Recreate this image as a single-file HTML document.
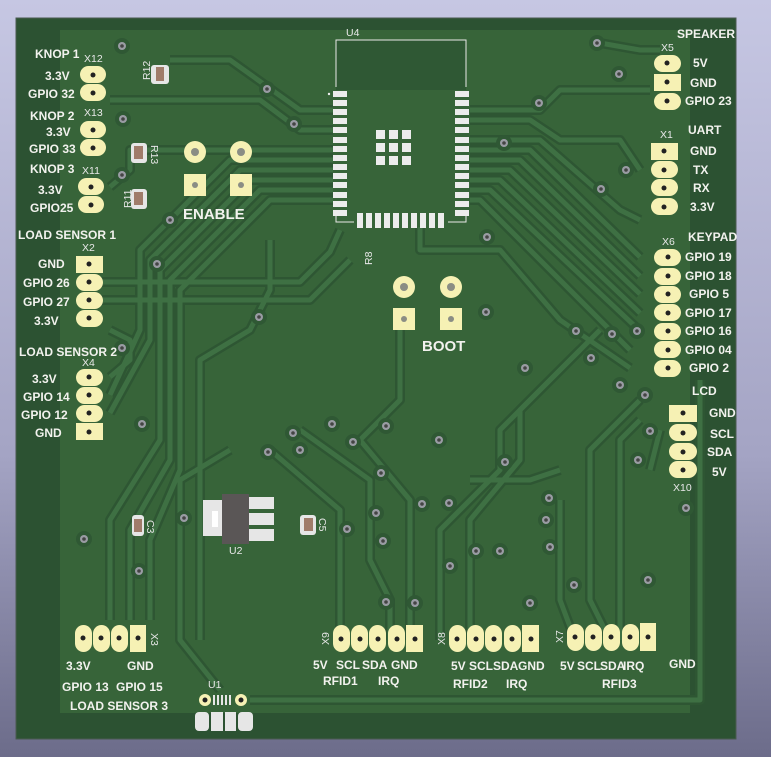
<!DOCTYPE html>
<html><head><meta charset="utf-8"><style>
html,body{margin:0;padding:0;width:771px;height:757px;overflow:hidden;background:linear-gradient(#c6c7e3,#a4a4c4 60%,#6c6c8a);}
svg{display:block}
text{font-family:"Liberation Sans",sans-serif;font-weight:bold;fill:#f2f2ee;font-size:12px}
.r{font-weight:normal;fill:#e8e8e8;font-size:10.5px}
</style></head><body>
<svg width="771" height="757" viewBox="0 0 771 757" xmlns="http://www.w3.org/2000/svg">
<defs>
<g id="via"><circle r="8" fill="#2f5834"/><circle r="4" fill="#9a9ca4"/><circle r="1.8" fill="#444"/></g>
<g id="tr">
<path d="M333 110 L300 110 L230 60 L170 60"/>
<path d="M333 130 L300 130 L260 100 L110 100"/>
<path d="M333 150 L130 150 L130 170 L110 187"/>
<path d="M333 160 L230 160 L140 250 L140 330 L110 395"/>
<path d="M333 170 L240 170 L150 260 L150 340 L110 413"/>
<path d="M333 180 L250 180 L160 270 L160 440 L110 520 L110 620"/>
<path d="M333 190 L260 190 L170 280 L170 460 L130 530 L130 620"/>
<path d="M333 200 L270 200 L180 290 L180 470 L150 540 L150 620"/>
<path d="M100 282 L300 282 L330 252 L340 230"/>
<path d="M100 300 L310 300 L350 260"/>
<path d="M110 330 L130 340 L130 360 L110 377"/>
<path d="M470 110 L540 110 L560 90 L650 90"/>
<path d="M470 120 L530 120 L560 140 L620 140 L640 170"/>
<path d="M470 140 L540 140 L620 210 L640 220"/>
<path d="M470 150 L530 150 L640 257"/>
<path d="M470 160 L520 160 L640 276"/>
<path d="M470 170 L510 170 L640 294"/>
<path d="M470 180 L500 180 L640 313"/>
<path d="M470 190 L490 190 L640 331"/>
<path d="M470 200 L480 200 L630 350"/>
<path d="M420 227 L420 250 L500 250 L560 320 L630 368"/>
<path d="M600 330 L520 410 L520 460 L470 520 L470 640"/>
<path d="M580 350 L500 430 L500 470 L440 530 L440 640"/>
<path d="M640 400 L590 450 L590 600 L610 640"/>
<path d="M640 420 L620 440 L620 640"/>
<path d="M560 500 L560 600 L575 640"/>
<path d="M650 470 L660 430"/>
<path d="M300 430 L370 480 L370 560 L390 600 L390 640"/>
<path d="M270 450 L340 510 L340 640"/>
<path d="M400 330 L400 400 L360 440 L410 500 L410 640"/>
<path d="M230 450 L180 480 L180 640 L220 690"/>
<path d="M700 380 L700 700 L250 700"/>
<path d="M470 480 L530 480 L560 470"/>
<path d="M600 43 L640 50 L660 50"/>
<path d="M270 240 L270 290 L250 330 L200 360 L200 640"/>
</g>
</defs>
<rect x="16" y="18" width="720" height="721" fill="#2c5232" stroke="#4a5a50" stroke-width="1"/>
<rect x="60" y="30" width="630" height="683" fill="#376439"/>
<rect x="336" y="40" width="130" height="50" fill="#2f5834"/>
<g fill="none" stroke-linejoin="round">
<use href="#tr" stroke="#2e5633" stroke-width="10"/>
<use href="#tr" stroke="#3e7043" stroke-width="5"/>
</g>
<g>
<use href="#via" x="122" y="46"/><use href="#via" x="267" y="89"/><use href="#via" x="294" y="124"/>
<use href="#via" x="123" y="119"/><use href="#via" x="122" y="175"/><use href="#via" x="170" y="220"/>
<use href="#via" x="157" y="264"/><use href="#via" x="259" y="317"/><use href="#via" x="122" y="348"/>
<use href="#via" x="142" y="424"/><use href="#via" x="293" y="433"/><use href="#via" x="268" y="452"/>
<use href="#via" x="332" y="424"/><use href="#via" x="353" y="442"/><use href="#via" x="386" y="426"/>
<use href="#via" x="84" y="539"/><use href="#via" x="139" y="571"/><use href="#via" x="184" y="518"/>
<use href="#via" x="347" y="529"/><use href="#via" x="376" y="513"/><use href="#via" x="383" y="541"/>
<use href="#via" x="597" y="43"/><use href="#via" x="619" y="74"/><use href="#via" x="539" y="103"/>
<use href="#via" x="504" y="143"/><use href="#via" x="626" y="170"/><use href="#via" x="601" y="189"/>
<use href="#via" x="487" y="237"/><use href="#via" x="486" y="312"/><use href="#via" x="576" y="331"/>
<use href="#via" x="612" y="334"/><use href="#via" x="637" y="331"/><use href="#via" x="591" y="358"/>
<use href="#via" x="525" y="368"/><use href="#via" x="620" y="385"/><use href="#via" x="645" y="395"/>
<use href="#via" x="650" y="431"/><use href="#via" x="638" y="460"/><use href="#via" x="686" y="508"/>
<use href="#via" x="449" y="503"/><use href="#via" x="422" y="504"/><use href="#via" x="549" y="498"/>
<use href="#via" x="546" y="520"/><use href="#via" x="476" y="551"/><use href="#via" x="500" y="551"/>
<use href="#via" x="550" y="547"/><use href="#via" x="450" y="566"/><use href="#via" x="574" y="585"/>
<use href="#via" x="648" y="580"/><use href="#via" x="415" y="603"/><use href="#via" x="530" y="603"/>
<use href="#via" x="386" y="602"/><use href="#via" x="381" y="473"/><use href="#via" x="439" y="440"/>
<use href="#via" x="505" y="462"/><use href="#via" x="300" y="450"/>
</g>
<g fill="none" stroke="#e8e8e8" stroke-width="1">
<path d="M336 87 V40 H466 V87"/>
<path d="M336 215 V222 H354 M448 222 H466 V215"/>
</g>
<g fill="#ececec">
<rect x="333" y="91" width="14" height="6"/><rect x="333" y="100" width="14" height="6"/><rect x="333" y="109" width="14" height="6"/><rect x="333" y="118" width="14" height="6"/><rect x="333" y="127" width="14" height="6"/><rect x="333" y="137" width="14" height="6"/><rect x="333" y="146" width="14" height="6"/><rect x="333" y="155" width="14" height="6"/><rect x="333" y="164" width="14" height="6"/><rect x="333" y="173" width="14" height="6"/><rect x="333" y="182" width="14" height="6"/><rect x="333" y="192" width="14" height="6"/><rect x="333" y="201" width="14" height="6"/><rect x="333" y="210" width="14" height="6"/>
<rect x="455" y="91" width="14" height="6"/><rect x="455" y="100" width="14" height="6"/><rect x="455" y="109" width="14" height="6"/><rect x="455" y="118" width="14" height="6"/><rect x="455" y="127" width="14" height="6"/><rect x="455" y="137" width="14" height="6"/><rect x="455" y="146" width="14" height="6"/><rect x="455" y="155" width="14" height="6"/><rect x="455" y="164" width="14" height="6"/><rect x="455" y="173" width="14" height="6"/><rect x="455" y="182" width="14" height="6"/><rect x="455" y="192" width="14" height="6"/><rect x="455" y="201" width="14" height="6"/><rect x="455" y="210" width="14" height="6"/>
<rect x="357" y="213" width="6" height="15"/><rect x="366" y="213" width="6" height="15"/><rect x="375" y="213" width="6" height="15"/><rect x="384" y="213" width="6" height="15"/><rect x="393" y="213" width="6" height="15"/><rect x="402" y="213" width="6" height="15"/><rect x="411" y="213" width="6" height="15"/><rect x="420" y="213" width="6" height="15"/><rect x="429" y="213" width="6" height="15"/><rect x="438" y="213" width="6" height="15"/>
<rect x="376" y="130" width="9" height="9"/><rect x="389" y="130" width="9" height="9"/><rect x="402" y="130" width="9" height="9"/>
<rect x="376" y="143" width="9" height="9"/><rect x="389" y="143" width="9" height="9"/><rect x="402" y="143" width="9" height="9"/>
<rect x="376" y="156" width="9" height="9"/><rect x="389" y="156" width="9" height="9"/><rect x="402" y="156" width="9" height="9"/>
<circle cx="329" cy="94" r="1.2"/>
</g>
<g fill="#f6f1b4">
<rect x="80" y="66" width="26" height="17" rx="8.5"/><rect x="80" y="84" width="26" height="17" rx="8.5"/>
<rect x="80" y="121" width="26" height="17" rx="8.5"/><rect x="80" y="139" width="26" height="17" rx="8.5"/>
<rect x="78" y="178" width="26" height="17" rx="8.5"/><rect x="78" y="196" width="26" height="17" rx="8.5"/>
<rect x="76" y="256" width="27" height="17"/><rect x="76" y="274" width="27" height="17" rx="8.5"/><rect x="76" y="292" width="27" height="17" rx="8.5"/><rect x="76" y="310" width="27" height="17" rx="8.5"/>
<rect x="76" y="369" width="27" height="17" rx="8.5"/><rect x="76" y="387" width="27" height="17" rx="8.5"/><rect x="76" y="405" width="27" height="17" rx="8.5"/><rect x="76" y="423" width="27" height="17"/>
<rect x="654" y="55" width="27" height="17" rx="8.5"/><rect x="654" y="74" width="27" height="17"/><rect x="654" y="93" width="27" height="17" rx="8.5"/>
<rect x="651" y="143" width="27" height="17"/><rect x="651" y="161" width="27" height="17" rx="8.5"/><rect x="651" y="179" width="27" height="17" rx="8.5"/><rect x="651" y="198" width="27" height="17" rx="8.5"/>
<rect x="654" y="249" width="27" height="17" rx="8.5"/><rect x="654" y="268" width="27" height="17" rx="8.5"/><rect x="654" y="286" width="27" height="17" rx="8.5"/><rect x="654" y="304" width="27" height="17" rx="8.5"/><rect x="654" y="323" width="27" height="17" rx="8.5"/><rect x="654" y="341" width="27" height="17" rx="8.5"/><rect x="654" y="360" width="27" height="17" rx="8.5"/>
<rect x="669" y="405" width="28" height="17"/><rect x="669" y="424" width="28" height="17" rx="8.5"/><rect x="669" y="443" width="28" height="17" rx="8.5"/><rect x="669" y="461" width="28" height="17" rx="8.5"/>
<rect x="75" y="625" width="17" height="27" rx="8.5"/><rect x="93" y="625" width="17" height="27" rx="8.5"/><rect x="111" y="625" width="17" height="27" rx="8.5"/><rect x="130" y="625" width="16" height="27"/>
<rect x="333" y="625" width="17" height="27" rx="8.5"/><rect x="351" y="625" width="17" height="27" rx="8.5"/><rect x="369" y="625" width="17" height="27" rx="8.5"/><rect x="388" y="625" width="17" height="27" rx="8.5"/><rect x="406" y="625" width="17" height="27"/>
<rect x="449" y="625" width="17" height="27" rx="8.5"/><rect x="467" y="625" width="17" height="27" rx="8.5"/><rect x="485" y="625" width="17" height="27" rx="8.5"/><rect x="504" y="625" width="17" height="27" rx="8.5"/><rect x="522" y="625" width="17" height="27"/>
<rect x="567" y="624" width="17" height="27" rx="8.5"/><rect x="585" y="624" width="17" height="27" rx="8.5"/><rect x="603" y="624" width="17" height="27" rx="8.5"/><rect x="622" y="624" width="17" height="27" rx="8.5"/><rect x="640" y="623" width="16" height="28"/>
<circle cx="195" cy="152" r="11"/><circle cx="241" cy="152" r="11"/>
<rect x="184" y="174" width="22" height="22"/><rect x="230" y="174" width="22" height="22"/>
<circle cx="404" cy="287" r="11"/><circle cx="451" cy="287" r="11"/>
<rect x="393" y="308" width="22" height="22"/><rect x="440" y="308" width="22" height="22"/>
<circle cx="205" cy="700" r="6"/><circle cx="241" cy="700" r="6"/>
</g>
<g fill="#222">
<circle cx="93" cy="75" r="2.5"/><circle cx="93" cy="93" r="2.5"/><circle cx="93" cy="130" r="2.5"/><circle cx="93" cy="148" r="2.5"/><circle cx="91" cy="187" r="2.5"/><circle cx="91" cy="205" r="2.5"/>
<circle cx="89" cy="264" r="2.5"/><circle cx="89" cy="282" r="2.5"/><circle cx="89" cy="300" r="2.5"/><circle cx="89" cy="318" r="2.5"/>
<circle cx="89" cy="377" r="2.5"/><circle cx="89" cy="395" r="2.5"/><circle cx="89" cy="413" r="2.5"/><circle cx="89" cy="432" r="2.5"/>
<circle cx="667" cy="63" r="2.5"/><circle cx="667" cy="82" r="2.5"/><circle cx="667" cy="101" r="2.5"/>
<circle cx="664" cy="151" r="2.5"/><circle cx="664" cy="170" r="2.5"/><circle cx="664" cy="188" r="2.5"/><circle cx="664" cy="207" r="2.5"/>
<circle cx="668" cy="257" r="2.5"/><circle cx="668" cy="276" r="2.5"/><circle cx="668" cy="294" r="2.5"/><circle cx="668" cy="313" r="2.5"/><circle cx="668" cy="331" r="2.5"/><circle cx="668" cy="350" r="2.5"/><circle cx="668" cy="368" r="2.5"/>
<circle cx="683" cy="413" r="2.5"/><circle cx="683" cy="433" r="2.5"/><circle cx="683" cy="452" r="2.5"/><circle cx="683" cy="470" r="2.5"/>
<circle cx="83" cy="638" r="2.5"/><circle cx="101" cy="638" r="2.5"/><circle cx="119" cy="638" r="2.5"/><circle cx="138" cy="638" r="2.5"/>
<circle cx="341" cy="639" r="2.5"/><circle cx="360" cy="639" r="2.5"/><circle cx="378" cy="639" r="2.5"/><circle cx="397" cy="639" r="2.5"/><circle cx="415" cy="639" r="2.5"/>
<circle cx="457" cy="639" r="2.5"/><circle cx="476" cy="639" r="2.5"/><circle cx="494" cy="639" r="2.5"/><circle cx="512" cy="639" r="2.5"/><circle cx="531" cy="639" r="2.5"/>
<circle cx="575" cy="637" r="2.5"/><circle cx="593" cy="637" r="2.5"/><circle cx="611" cy="637" r="2.5"/><circle cx="630" cy="637" r="2.5"/><circle cx="648" cy="637" r="2.5"/>
<circle cx="205" cy="700" r="2.5"/><circle cx="241" cy="700" r="2.5"/>
</g>
<g fill="#8a8d84">
<circle cx="195" cy="152" r="4"/><circle cx="241" cy="152" r="4"/><circle cx="195" cy="185" r="3"/><circle cx="241" cy="185" r="3"/>
<circle cx="404" cy="287" r="4"/><circle cx="451" cy="287" r="4"/><circle cx="404" cy="319" r="3"/><circle cx="451" cy="319" r="3"/>
</g>
<g>
<rect x="151" y="65" width="18" height="19" rx="3" fill="#e6e6e6"/><rect x="156" y="67" width="8" height="14" fill="#a07c6a"/>
<rect x="131" y="143" width="16" height="20" rx="3" fill="#e6e6e6"/><rect x="134" y="146" width="9" height="13" fill="#a07c6a"/>
<rect x="131" y="189" width="16" height="20" rx="3" fill="#e6e6e6"/><rect x="134" y="192" width="9" height="13" fill="#a07c6a"/>
<rect x="132" y="515" width="12" height="21" rx="3" fill="#e6e6e6"/><rect x="134" y="519" width="8" height="13" fill="#a07c6a"/>
<rect x="300" y="515" width="16" height="20" rx="3" fill="#e6e6e6"/><rect x="304" y="518" width="9" height="13" fill="#a07c6a"/>
<rect x="203" y="500" width="22" height="36" fill="#e6e6e6"/><rect x="212" y="511" width="6" height="16" fill="#fff"/>
<rect x="249" y="497" width="25" height="12" fill="#e6e6e6"/><rect x="249" y="513" width="25" height="12" fill="#e6e6e6"/><rect x="249" y="529" width="25" height="12" fill="#e6e6e6"/>
<rect x="222" y="494" width="27" height="50" fill="#5a5656"/>
<rect x="195" y="712" width="14" height="19" rx="4" fill="#e6e6e6"/><rect x="211" y="712" width="12" height="19" fill="#e6e6e6"/><rect x="225" y="712" width="11" height="19" fill="#e6e6e6"/><rect x="238" y="712" width="15" height="19" rx="4" fill="#e6e6e6"/>
<g fill="#e6e6e6"><rect x="213" y="695" width="2" height="10"/><rect x="217" y="695" width="2" height="10"/><rect x="221" y="695" width="2" height="10"/><rect x="225" y="695" width="2" height="10"/><rect x="229" y="695" width="2" height="10"/></g>
</g>
<g>
<text x="35" y="58">KNOP 1</text><text class="r" x="84" y="62">X12</text>
<text x="45" y="80">3.3V</text><text x="28" y="98">GPIO 32</text>
<text x="30" y="120">KNOP 2</text><text class="r" x="84" y="116">X13</text>
<text x="46" y="136">3.3V</text><text x="29" y="153">GPIO 33</text>
<text x="30" y="173">KNOP 3</text><text class="r" x="82" y="174">X11</text>
<text x="38" y="194">3.3V</text><text x="30" y="212">GPIO25</text>
<text x="18" y="239">LOAD SENSOR 1</text><text class="r" x="82" y="251">X2</text>
<text x="38" y="268">GND</text><text x="23" y="287">GPIO 26</text><text x="23" y="306">GPIO 27</text><text x="34" y="325">3.3V</text>
<text x="19" y="356">LOAD SENSOR 2</text><text class="r" x="82" y="366">X4</text>
<text x="32" y="383">3.3V</text><text x="23" y="401">GPIO 14</text><text x="21" y="419">GPIO 12</text><text x="35" y="437">GND</text>
<text x="66" y="670">3.3V</text><text x="127" y="670">GND</text>
<text x="62" y="691">GPIO 13</text><text x="116" y="691">GPIO 15</text>
<text x="70" y="710">LOAD SENSOR 3</text>
<text class="r" x="346" y="36">U4</text>
<text class="r" x="229" y="554">U2</text>
<text class="r" x="208" y="688">U1</text>
<text x="183" y="219" style="font-size:15px">ENABLE</text>
<text x="422" y="351" style="font-size:15px">BOOT</text>
<text x="677" y="38">SPEAKER</text><text class="r" x="661" y="51">X5</text>
<text x="693" y="67">5V</text><text x="690" y="87">GND</text><text x="685" y="105">GPIO 23</text>
<text x="688" y="134">UART</text><text class="r" x="660" y="138">X1</text>
<text x="690" y="155">GND</text><text x="693" y="174">TX</text><text x="693" y="192">RX</text><text x="690" y="211">3.3V</text>
<text x="688" y="241">KEYPAD</text><text class="r" x="662" y="245">X6</text>
<text x="685" y="261">GPIO 19</text><text x="685" y="280">GPIO 18</text><text x="689" y="298">GPIO 5</text><text x="685" y="317">GPIO 17</text><text x="685" y="335">GPIO 16</text><text x="685" y="354">GPIO 04</text><text x="689" y="372">GPIO 2</text>
<text x="692" y="395">LCD</text>
<text x="709" y="417">GND</text><text x="710" y="438">SCL</text><text x="707" y="456">SDA</text><text x="712" y="476">5V</text>
<text class="r" x="673" y="491">X10</text>
<text x="313" y="669">5V</text><text x="336" y="669">SCL</text><text x="362" y="669">SDA</text><text x="391" y="669">GND</text>
<text x="323" y="685">RFID1</text><text x="378" y="685">IRQ</text>
<text x="451" y="670">5V</text><text x="469" y="670">SCL</text><text x="493" y="670">SDA</text><text x="518" y="670">GND</text>
<text x="453" y="688">RFID2</text><text x="506" y="688">IRQ</text>
<text x="560" y="670">5V</text><text x="577" y="670">SCL</text><text x="600" y="670">SDA</text><text x="623" y="670">IRQ</text>
<text x="669" y="668">GND</text>
<text x="602" y="688">RFID3</text>
<text class="r" transform="translate(150,80) rotate(-90)">R12</text>
<text class="r" transform="translate(151,145) rotate(90)">R13</text>
<text class="r" transform="translate(131,208) rotate(-90)">R11</text>
<text class="r" transform="translate(147,520) rotate(90)">C3</text>
<text class="r" transform="translate(319,518) rotate(90)">C5</text>
<text class="r" transform="translate(372,265) rotate(-90)">R8</text>
<text class="r" transform="translate(151,633) rotate(90)">X3</text>
<text class="r" transform="translate(329,645) rotate(-90)">X9</text>
<text class="r" transform="translate(445,645) rotate(-90)">X8</text>
<text class="r" transform="translate(563,643) rotate(-90)">X7</text>
</g>
</svg>
</body></html>
